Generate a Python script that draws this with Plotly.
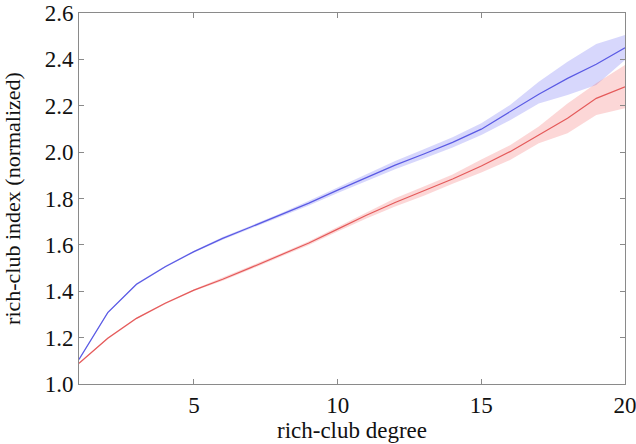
import plotly.graph_objects as go

degree = list(range(1, 21))

blue_mean = [1.106, 1.308, 1.430, 1.506, 1.571, 1.628, 1.678, 1.728, 1.780, 1.836,
             1.889, 1.944, 1.992, 2.042, 2.099, 2.174, 2.250, 2.318, 2.379, 2.450]
blue_low = [1.102, 1.304, 1.426, 1.502, 1.567, 1.622, 1.672, 1.721, 1.770, 1.824,
            1.874, 1.926, 1.972, 2.020, 2.074, 2.138, 2.210, 2.246, 2.290, 2.397]
blue_high = [1.110, 1.312, 1.434, 1.510, 1.575, 1.634, 1.684, 1.735, 1.790, 1.848,
             1.904, 1.962, 2.012, 2.064, 2.124, 2.203, 2.304, 2.390, 2.466, 2.505]

red_mean = [1.089, 1.197, 1.283, 1.348, 1.405, 1.452, 1.503, 1.555, 1.608, 1.668,
            1.728, 1.783, 1.832, 1.884, 1.940, 2.002, 2.074, 2.146, 2.232, 2.282]
red_low = [1.085, 1.193, 1.279, 1.344, 1.401, 1.445, 1.496, 1.548, 1.600, 1.658,
           1.714, 1.765, 1.812, 1.864, 1.912, 1.966, 2.038, 2.081, 2.160, 2.189]
red_high = [1.093, 1.201, 1.287, 1.352, 1.409, 1.459, 1.510, 1.562, 1.616, 1.678,
            1.742, 1.801, 1.852, 1.904, 1.968, 2.030, 2.110, 2.210, 2.297, 2.376]

x_ticks = [5, 10, 15, 20]
y_ticks = [1.0, 1.2, 1.4, 1.6, 1.8, 2.0, 2.2, 2.4, 2.6]

BLUE_LINE = "rgb(90,90,228)"
BLUE_FILL = "rgba(95,95,245,0.25)"
RED_LINE = "rgb(228,90,90)"
RED_FILL = "rgba(245,95,95,0.25)"

fig = go.Figure()

for lo, hi, mean, lc, fc in [
    (blue_low, blue_high, blue_mean, BLUE_LINE, BLUE_FILL),
    (red_low, red_high, red_mean, RED_LINE, RED_FILL),
]:
    fig.add_trace(go.Scatter(x=degree, y=lo, mode="lines", line=dict(width=0),
                             showlegend=False, hoverinfo="skip"))
    fig.add_trace(go.Scatter(x=degree, y=hi, mode="lines", line=dict(width=0),
                             fill="tonexty", fillcolor=fc, showlegend=False,
                             hoverinfo="skip"))
    fig.add_trace(go.Scatter(x=degree, y=mean, mode="lines",
                             line=dict(color=lc, width=1.2), showlegend=False))

FAMILY = "Liberation Serif, Times New Roman, Times, serif"
tick_font = dict(family=FAMILY, size=23, color="#111")
xtitle_font = dict(family=FAMILY, size=23, color="#111")
ytitle_font = dict(family=FAMILY, size=22, color="#111")
axis_common = dict(
    showgrid=False, zeroline=False, showline=True, linecolor="#8a8a8a",
    linewidth=1, mirror="ticks", ticks="inside", ticklen=5, tickcolor="#8a8a8a",
    tickfont=tick_font, ticklabeloverflow="allow",
)

fig.update_layout(
    width=636, height=444,
    margin=dict(l=79, r=11, t=13, b=60),
    paper_bgcolor="white", plot_bgcolor="white",
    font=tick_font,
    xaxis=dict(range=[1, 20], tickvals=x_ticks, ticktext=[str(v) for v in x_ticks],
               title=dict(text="rich-club degree", font=xtitle_font, standoff=0),
               automargin=False, **axis_common),
    yaxis=dict(range=[1.0, 2.6], tickvals=y_ticks,
               ticktext=[f"{v:.1f}" for v in y_ticks],
               title=dict(text="rich-club index (normalized)", font=ytitle_font, standoff=17),
               automargin=False, **axis_common),
)

fig.write_html("out.html", config={"displayModeBar": False},
               post_script="document.body.style.margin='0';document.body.style.overflow='hidden';")
